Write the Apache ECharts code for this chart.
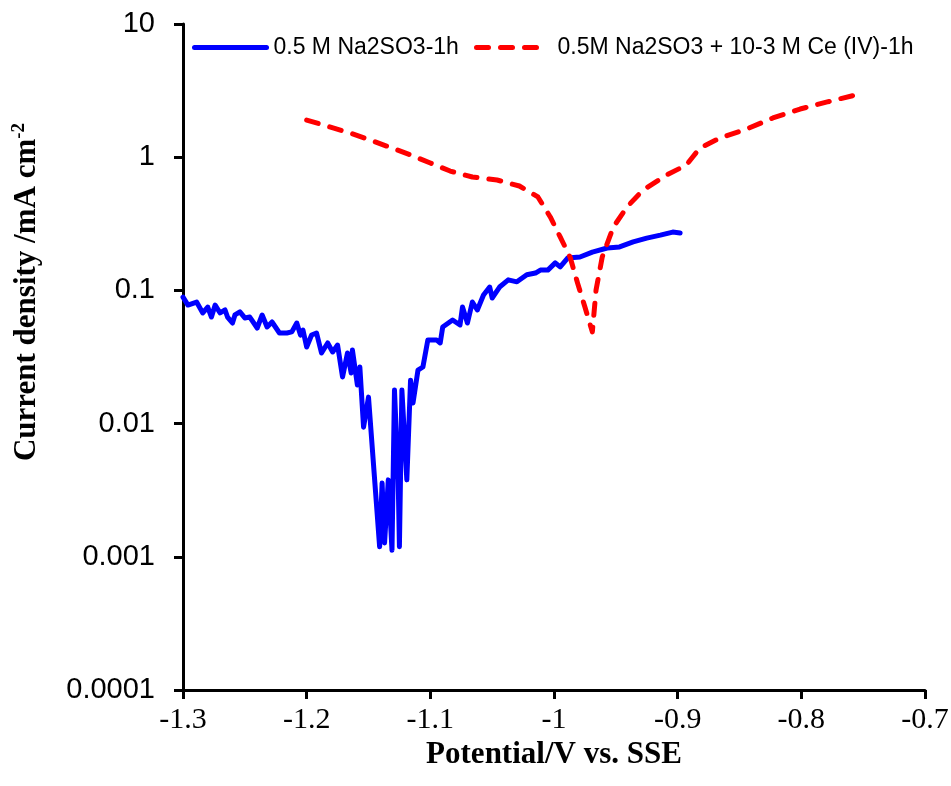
<!DOCTYPE html>
<html>
<head>
<meta charset="utf-8">
<script src="https://cdn.jsdelivr.net/npm/echarts@6/dist/echarts.min.js"></script>
<style>html,body{margin:0;padding:0;background:#fff}#c{width:951px;height:786px}</style>
</head>
<body>
<div id="c"></div>
<script>
var seriesNames = ['0.5 M Na2SO3-1h', '0.5M Na2SO3 + 10-3 M Ce (IV)-1h'];
var xTicks = [-1.3, -1.2, -1.1, -1, -0.9, -0.8, -0.7];
var yTicks = [0.0001, 0.001, 0.01, 0.1, 1, 10];

var blueV = [-1.300,-1.296,-1.289,-1.284,-1.280,-1.277,-1.274,-1.270,-1.266,-1.264,-1.260,-1.258,-1.254,-1.250,-1.246,-1.240,-1.236,-1.232,-1.228,-1.222,-1.216,-1.212,-1.208,-1.205,-1.203,-1.200,-1.196,-1.192,-1.188,-1.183,-1.179,-1.175,-1.171,-1.167,-1.164,-1.163,-1.159,-1.157,-1.154,-1.150,-1.141,-1.139,-1.137,-1.134,-1.131,-1.129,-1.126,-1.125,-1.123,-1.119,-1.116,-1.114,-1.110,-1.106,-1.102,-1.095,-1.092,-1.090,-1.082,-1.076,-1.074,-1.070,-1.066,-1.062,-1.057,-1.052,-1.050,-1.044,-1.037,-1.030,-1.022,-1.015,-1.011,-1.005,-0.999,-0.995,-0.989,-0.979,-0.969,-0.957,-0.947,-0.936,-0.925,-0.914,-0.904,-0.898];
var blueI = [0.0891,0.0776,0.0818,0.0677,0.0750,0.0631,0.0776,0.0677,0.0713,0.0631,0.0569,0.0654,0.0689,0.0621,0.0631,0.0522,0.0654,0.0531,0.0579,0.0479,0.0479,0.0488,0.0569,0.0462,0.0504,0.0376,0.0462,0.0479,0.0339,0.0403,0.0345,0.0389,0.0224,0.0339,0.0240,0.0357,0.0195,0.0266,0.0094,0.0158,0.00119,0.00358,0.00127,0.00378,0.00112,0.0179,0.00378,0.00119,0.0179,0.00378,0.0212,0.0143,0.0252,0.0266,0.0425,0.0425,0.0403,0.0531,0.0600,0.0550,0.0750,0.0569,0.0818,0.0713,0.0923,0.106,0.0877,0.106,0.120,0.116,0.131,0.135,0.142,0.142,0.161,0.150,0.175,0.178,0.194,0.208,0.212,0.231,0.247,0.260,0.274,0.270];

var redV = [-1.200,-1.187,-1.165,-1.149,-1.133,-1.116,-1.100,-1.084,-1.066,-1.046,-1.028,-1.013,-1.003,-0.995,-0.987,-0.981,-0.975,-0.969,-0.966,-0.961,-0.952,-0.941,-0.928,-0.909,-0.893,-0.888,-0.882,-0.866,-0.844,-0.823,-0.801,-0.779,-0.750];
var redI = [1.90,1.75,1.52,1.35,1.19,1.04,0.904,0.787,0.710,0.674,0.608,0.503,0.356,0.252,0.178,0.114,0.075,0.0488,0.1007,0.178,0.299,0.423,0.567,0.735,0.873,1.00,1.17,1.39,1.63,1.97,2.30,2.60,3.03];

function pairs(xs, ys) { return xs.map(function (x, i) { return [x, ys[i]]; }); }

var chart = echarts.init(document.getElementById('c'), null, {renderer: 'canvas'});
var axisLineStyle = {color: '#000', width: 3};
chart.setOption({
  animation: false,
  backgroundColor: '#fff',
  grid: {left: 183, right: 26, top: 24, bottom: 96, containLabel: false, outerBoundsMode: 'none'},
  legend: [{
    data: [seriesNames[0]],
    left: 187, top: 31,
    itemWidth: 72, itemHeight: 14,
    itemStyle: {opacity: 0},
    lineStyle: {width: 5, cap: 'round'},
    textStyle: {fontFamily: 'Liberation Sans', fontSize: 23, color: '#000', padding: [0, 0, 0, 2]}
  }, {
    data: [seriesNames[1]],
    left: 469, top: 31,
    itemWidth: 66, itemHeight: 14,
    itemStyle: {opacity: 0},
    lineStyle: {width: 5, type: [12, 12], cap: 'round'},
    textStyle: {fontFamily: 'Liberation Sans', fontSize: 23, color: '#000', padding: [0, 0, 0, 10]}
  }],
  xAxis: {
    type: 'value', min: xTicks[0], max: xTicks[xTicks.length - 1], interval: 0.1,
    axisLine: {show: true, onZero: false, lineStyle: axisLineStyle},
    axisTick: {show: true, inside: false, length: 9, lineStyle: {color: '#000', width: 3}},
    splitLine: {show: false},
    axisLabel: {
      margin: 15, color: '#000', fontFamily: 'Liberation Serif', fontSize: 30,
      formatter: function (v) { return String(Math.round(v * 10) / 10); }
    },
    name: 'Potential/V vs. SSE', nameLocation: 'middle', nameGap: 40,
    nameTextStyle: {fontFamily: 'Liberation Serif', fontWeight: 'bold', fontSize: 31, color: '#000'}
  },
  yAxis: {
    type: 'log', logBase: 10, min: yTicks[0], max: yTicks[yTicks.length - 1],
    axisLine: {show: true, onZero: false, lineStyle: axisLineStyle},
    axisTick: {show: true, inside: false, length: 9, lineStyle: {color: '#000', width: 3}},
    splitLine: {show: false},
    minorTick: {show: false},
    axisLabel: {
      margin: 28, color: '#000', fontFamily: 'Liberation Sans', fontSize: 29,
      formatter: function (v) { return String(+Number(v).toPrecision(1)); }
    },
    name: '{t|Current density /mA cm}{s|-2}', nameLocation: 'middle', nameGap: 140, nameRotate: 90,
    nameTextStyle: {
      padding: [0, 0, 0, 130],
      rich: {
        t: {fontFamily: 'Liberation Serif', fontWeight: 'bold', fontSize: 31, color: '#000'},
        s: {fontFamily: 'Liberation Serif', fontWeight: 'bold', fontSize: 19, color: '#000', verticalAlign: 'top', padding: [0, 0, 14, 0]}
      }
    }
  },
  series: [{
    name: seriesNames[0], type: 'line', data: pairs(blueV, blueI),
    showSymbol: false, symbol: 'none', smooth: false,
    lineStyle: {color: '#0000FF', width: 5, join: 'round', cap: 'round'},
    itemStyle: {color: '#0000FF'}
  }, {
    name: seriesNames[1], type: 'line', data: pairs(redV, redI),
    showSymbol: false, symbol: 'none', smooth: false,
    lineStyle: {color: '#FF0000', width: 5, type: [12, 12], cap: 'round', join: 'round'},
    itemStyle: {color: '#FF0000'}
  }]
});
</script>
</body>
</html>
